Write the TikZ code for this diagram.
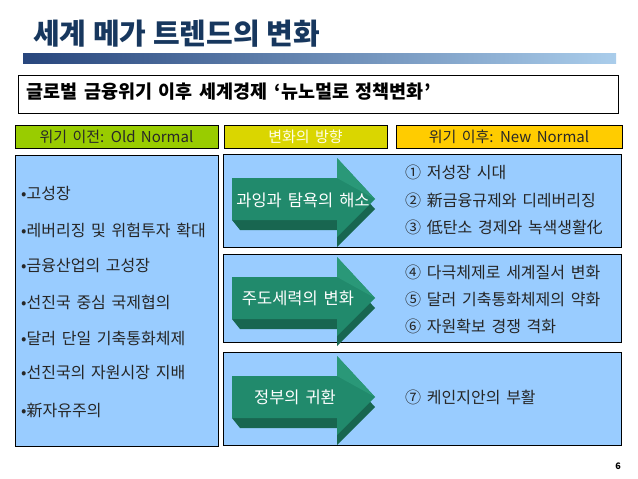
\documentclass[tikz,border=0pt]{standalone}
\usepackage{fontspec}
\setmainfont{Noto Sans CJK KR}
\newfontfamily\kwide[WordSpace=2.2]{Noto Sans CJK KR}
\newfontfamily\ksub[WordSpace=1.6]{Noto Sans CJK KR}
\definecolor{titleblue}{RGB}{23,55,94}
\definecolor{barleft}{RGB}{40,70,125}
\definecolor{barright}{RGB}{170,205,235}
\definecolor{panelblue}{RGB}{153,204,255}
\definecolor{hgreen}{RGB}{153,204,0}
\definecolor{hyellow}{RGB}{218,214,0}
\definecolor{horange}{RGB}{255,204,0}
\definecolor{arrowfront}{RGB}{33,138,108}
\definecolor{arrowlight}{RGB}{42,152,120}
\definecolor{arrowside}{RGB}{24,102,80}
\definecolor{hdrtext}{RGB}{40,40,40}
\tikzset{
  box/.style={draw=black, line width=0.9pt},
  panel/.style={box, fill=panelblue},
  hdr/.style={font=\kwide\fontsize{15}{17}\selectfont, text=hdrtext},
  item/.style={anchor=west, inner sep=0pt, font=\kwide\fontsize{16}{18}\selectfont, text=black!85},
  arrowlabel/.style={inner sep=0pt, font=\kwide\fontsize{16.5}{18}\selectfont, text=white},
}
\newcommand{\bigarrowat}[1]{%
  \fill[arrowside] (232,#1-21+10) -- (337,#1-21+10) -- (337,#1-41+10) -- (375,#1+10) -- (337,#1+38+10) -- (337,#1+21+10) -- (240,#1+21+10) -- (232,#1+21) -- cycle;
  \fill[arrowfront] (232,#1-21) -- (337,#1-21) -- (337,#1-41) -- (375,#1) -- (337,#1+38) -- (337,#1+21) -- (232,#1+21) -- cycle;
  \fill[arrowlight] (337,#1-41) -- (375,#1) -- (337,#1-21) -- cycle;
}
\begin{document}
\begin{tikzpicture}[x=1pt,y=-1pt]
\useasboundingbox[fill=white] (0,0) rectangle (638,479);
% title
\node[anchor=west, inner sep=0pt, text=titleblue, font=\fontsize{29}{33}\selectfont\bfseries] (title) at (33,33.5) {세계 메가 트렌드의 변화};
\shade[left color=barleft, right color=barright] (23,53) rectangle (616,63);
% subtitle
\draw[box, fill=white] (18,75) rectangle (618,113);
\node[anchor=west, inner sep=0pt, font=\ksub\fontsize{18.5}{20}\selectfont\bfseries] (sub) at (26,92) {글로벌 금융위기 이후 세계경제 ‘뉴노멀로 정책변화’};
% headers
\draw[box, fill=hgreen] (15,125) rectangle (218,148);
\draw[box, fill=hyellow] (224,125) rectangle (387,148);
\draw[box, fill=horange] (396,125) rectangle (622,148);
\node[hdr] (h1) at (116.5,136.5) {위기 이전: Old Normal};
\node[hdr, text=white!90!yellow] (h2) at (305.5,136.5) {변화의 방향};
\node[hdr] (h3) at (509,136.5) {위기 이후: New Normal};
% left box
\draw[panel] (15,155) rectangle (218,446);
\node[item] (l1) at (21,193) {•고성장};
\node[item] (l2) at (21,230) {•레버리징 및 위험투자 확대};
\node[item] (l3) at (21,266) {•금융산업의 고성장};
\node[item] (l4) at (21,302) {•선진국 중심 국제협의};
\node[item] (l5) at (21,338) {•달러 단일 기축통화체제};
\node[item] (l6) at (21,373) {•선진국의 자원시장 지배};
\node[item] (l7) at (21,410) {•新자유주의};
% right panels
\draw[panel] (223,154) rectangle (621,247);
\draw[panel] (223,254) rectangle (621,342);
\draw[panel] (223,352) rectangle (621,445);
\bigarrowat{199}
\bigarrowat{298}
\bigarrowat{397}
\node[arrowlabel] (a1) at (303,200) {과잉과 탐욕의 해소};
\node[arrowlabel] (a2) at (298,298) {주도세력의 변화};
\node[arrowlabel] (a3) at (295,397) {정부의 귀환};
\node[item] (r1) at (405,172) {① 저성장 시대};
\node[item] (r2) at (405,200) {② 新금융규제와 디레버리징};
\node[item] (r3) at (405,227) {③ 低탄소 경제와 녹색생활化};
\node[item] (r4) at (405,272) {④ 다극체제로 세계질서 변화};
\node[item] (r5) at (405,299) {⑤ 달러 기축통화체제의 약화};
\node[item] (r6) at (405,326) {⑥ 자원확보 경쟁 격화};
\node[item] (r7) at (405,397) {⑦ 케인지안의 부활};
% page number
\node[inner sep=0pt, font=\fontsize{9}{10}\selectfont\bfseries] (pg) at (618,466) {6};
\end{tikzpicture}
\end{document}
